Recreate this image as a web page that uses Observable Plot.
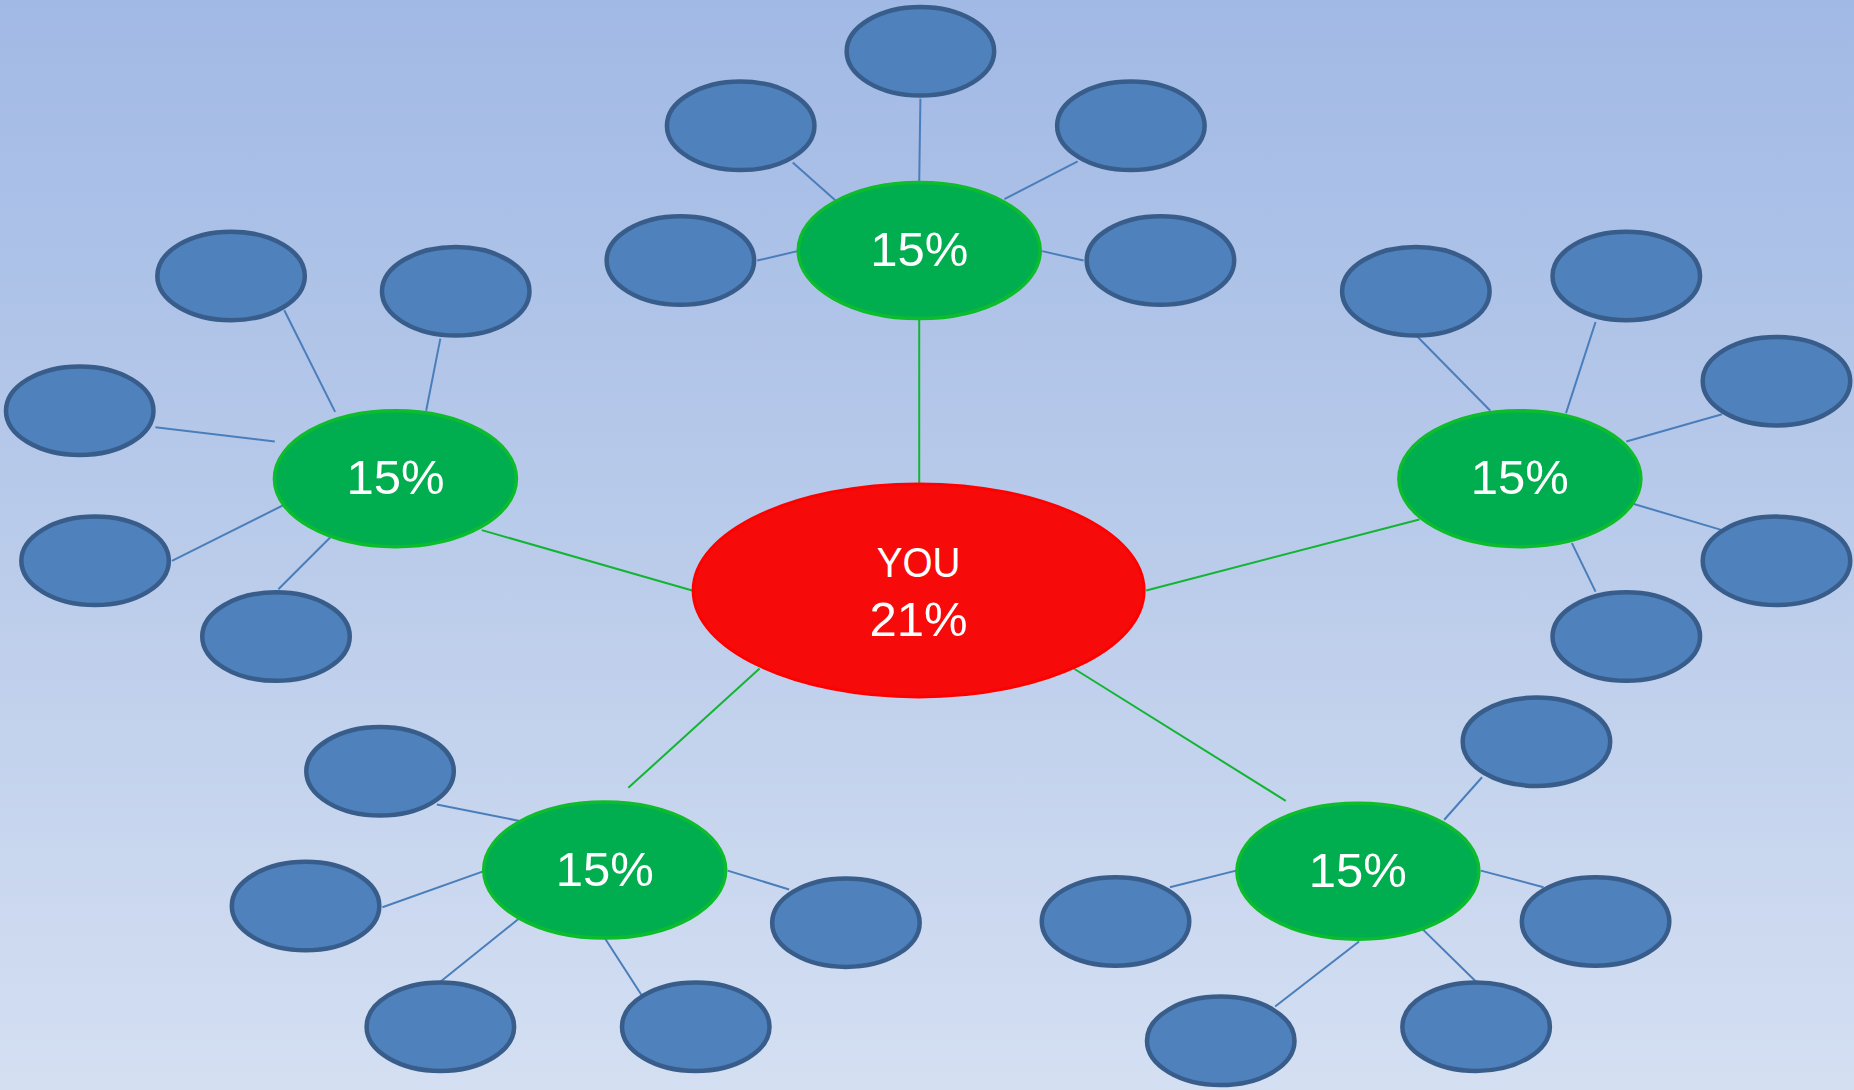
<!DOCTYPE html>
<html>
<head>
<meta charset="utf-8">
<script src="https://cdn.jsdelivr.net/npm/d3@7"></script>
<script src="https://cdn.jsdelivr.net/npm/@observablehq/plot@0.6"></script>
<style>
  html, body { margin: 0; padding: 0; overflow: hidden; background: #bccdeb; }
  #chart svg { display: block; }
</style>
</head>
<body>
<div id="chart"></div>
<script>
// Positions (in a 1568 x 922 view) and mapped by the scales.
const hubLabels = ["YOU", "21%"];
const hubLabelY = [476, 524];
const hubX = [776.5];
const hubY = [499];

const groupLabels = ["15%", "15%", "15%", "15%", "15%"];
const groupX = [777, 334, 1285, 511, 1148];
const groupY = [211.5, 404.5, 404.5, 735.5, 736.5];

const leafX = [
  778, 626, 956, 575, 981,
  195, 385, 67, 80, 233,
  1197, 1375, 1502, 1502, 1375,
  321, 258, 715, 372, 588,
  1299, 943, 1349, 1032, 1248
];
const leafY = [
  43, 106, 106, 220, 220,
  233, 246, 347, 474, 538,
  246, 233, 322, 474, 538,
  652, 766, 780, 868, 868,
  627, 779, 779, 880, 868
];

// hub -> group connectors
const hubLinkX1 = [777, 585, 969, 642, 906];
const hubLinkY1 = [408, 499, 499, 565, 564];
const hubLinkX2 = [777, 407, 1200, 531, 1087];
const hubLinkY2 = [270, 448, 439, 666, 677];

// group -> leaf connectors
const leafLinkX1 = [
  778, 670, 640, 911, 916,
  240, 372, 131, 145, 235,
  1198, 1349, 1456, 1456, 1349,
  369, 323, 372, 542, 667,
  1253, 989, 1305, 1078, 1248
];
const leafLinkY1 = [
  83, 137, 220, 136, 220,
  262, 286, 361, 474, 498,
  284, 272, 350, 448, 500,
  680, 767, 830, 841, 752,
  657, 750, 750, 851, 830
];
const leafLinkX2 = [
  777, 706, 674, 849, 881,
  283, 360, 232, 245, 283,
  1260, 1324, 1375, 1375, 1329,
  439, 410, 438, 511, 615,
  1221, 1045, 1252, 1149, 1197
];
const leafLinkY2 = [
  153, 169, 212, 168, 212,
  348, 347, 373, 424, 450,
  347, 349, 373, 424, 459,
  694, 736, 777, 793, 736,
  693, 736, 736, 796, 780
];

// tables built from the arrays
const hub = hubX.map((x, i) => ({x, y: hubY[i]}));
const hubText = hubLabels.map((t, i) => ({t, x: hubX[0], y: hubLabelY[i]}));
const groups = groupLabels.map((t, i) => ({t, x: groupX[i], y: groupY[i]}));
const leaves = leafX.map((x, i) => ({x, y: leafY[i]}));
const hubLinks = hubLinkX1.map((x1, i) => ({x1, y1: hubLinkY1[i], x2: hubLinkX2[i], y2: hubLinkY2[i]}));
const leafLinks = leafLinkX1.map((x1, i) => ({x1, y1: leafLinkY1[i], x2: leafLinkX2[i], y2: leafLinkY2[i]}));

function ellipseSymbol(k) {
  const K = 0.5522847498;
  return {
    draw(ctx, size) {
      const rx = Math.sqrt(size / Math.PI), ry = rx * k;
      ctx.moveTo(rx, 0);
      ctx.bezierCurveTo(rx, ry * K, rx * K, ry, 0, ry);
      ctx.bezierCurveTo(-rx * K, ry, -rx, ry * K, -rx, 0);
      ctx.bezierCurveTo(-rx, -ry * K, -rx * K, -ry, 0, -ry);
      ctx.bezierCurveTo(rx * K, -ry, rx, -ry * K, rx, 0);
      ctx.closePath();
    }
  };
}

const font = "'Liberation Sans', Arial, sans-serif";

const chart = Plot.plot({
  width: 1854,
  height: 1090,
  margin: 0,
  x: {domain: [0, 1568], range: [0, 1854], axis: null},
  y: {domain: [0, 922], range: [0, 1090], axis: null},
  style: {background: "linear-gradient(to bottom, #a1b9e5 0%, #bccdeb 54%, #d4dff2 100%)"},
  marks: [
    Plot.link(leafLinks, {x1: "x1", y1: "y1", x2: "x2", y2: "y2", stroke: "#4a7ebb", strokeWidth: 2}),
    Plot.link(hubLinks, {x1: "x1", y1: "y1", x2: "x2", y2: "y2", stroke: "#12b533", strokeWidth: 2}),
    Plot.dot(leaves, {x: "x", y: "y", r: 73.75, symbol: ellipseSymbol(44.25 / 73.75), fill: "#4f81bd", stroke: "#385d8a", strokeWidth: 4.5}),
    Plot.dot(groups, {x: "x", y: "y", r: 121, symbol: ellipseSymbol(68 / 121), fill: "#00ae4f", stroke: "#0cbc2c", strokeWidth: 3.5}),
    Plot.dot(hub, {x: "x", y: "y", r: 225.5, symbol: ellipseSymbol(106.5 / 225.5), fill: "#f70a0a", stroke: "#ff0000", strokeWidth: 3}),
    Plot.text(groups, {x: "x", y: "y", text: "t", fill: "white", fontSize: 49, fontFamily: font}),
    Plot.text(hubText.slice(0, 1), {x: "x", y: "y", text: "t", fill: "white", fontSize: 43, fontFamily: font}),
    Plot.text(hubText.slice(1), {x: "x", y: "y", text: "t", fill: "white", fontSize: 49, fontFamily: font})
  ]
});

// the "YOU" label in the reference is set slightly condensed
chart.querySelectorAll("text").forEach((el) => {
  if (el.textContent !== "YOU") return;
  const t = el.getAttribute("transform");
  if (t) {
    el.setAttribute("transform", t + " scale(0.9,1)");
  } else {
    const x = +el.getAttribute("x") || 0, y = +el.getAttribute("y") || 0;
    el.removeAttribute("x"); el.removeAttribute("y");
    el.setAttribute("transform", `translate(${x},${y}) scale(0.9,1)`);
  }
});

document.getElementById("chart").appendChild(chart);
</script>
</body>
</html>
